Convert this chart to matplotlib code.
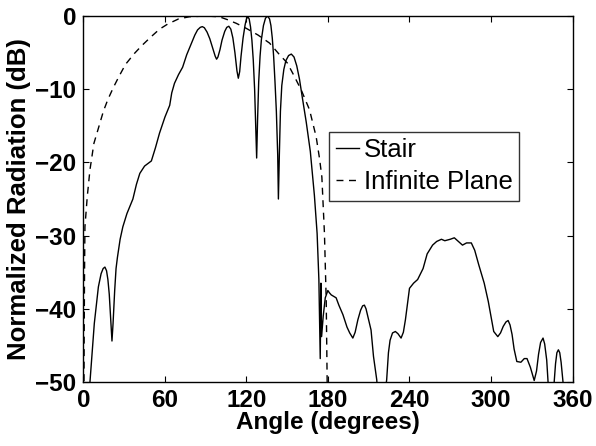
import numpy as np
import matplotlib
import matplotlib.pyplot as plt

matplotlib.use('Agg')

plt.rcParams['font.family'] = ['Liberation Sans', 'DejaVu Sans']
plt.rcParams['font.weight'] = 'bold'
plt.rcParams['axes.labelweight'] = 'bold'

# Stair radiation pattern (angle in degrees, level in dB)
stair_angle = [3, 4.8, 8, 11, 13, 14.5, 15.8, 17, 18, 19, 20.3, 21, 21.8, 23, 24, 25, 27,
               29, 32, 36.4, 39, 41.5, 45, 50, 53, 56, 60, 63.5, 65, 67, 70, 73, 76, 80,
               82, 84, 86, 87.5, 89, 91, 93, 95, 97, 98, 99, 100.5, 102, 104, 105.5, 107,
               108.5, 110, 111.5, 113, 114, 115, 116, 117.5, 119, 120, 121, 122, 123,
               124, 125, 126, 126.8, 127.5, 128.2, 129, 130, 131, 132.5, 134, 135.5, 137,
               138, 139, 140, 141, 142, 143, 143.5, 144.2, 145, 146, 147.5, 149, 151, 153,
               155, 157, 159, 161, 164, 167, 170, 172, 173.3, 174.3, 174.8, 175.3, 176.5,
               178, 179.9, 181, 182.4, 186, 188, 191, 194, 196, 198.3, 200, 202, 204,
               205.5, 206.8, 208, 209.5, 211.7, 213.5, 215.9, 217, 221, 223.2, 224.5,
               225.7, 227.5, 229.6, 231.5, 233.8, 235.5, 237, 240, 243, 246, 250, 253,
               257, 260, 263.5, 266, 270, 273, 276, 279, 282, 285.5, 288, 291, 295, 298,
               302, 305, 307, 309, 311, 312.6, 314, 315.5, 317, 319, 322, 324.5, 326.5,
               329, 331.8, 333.5, 335, 336.5, 338.3, 339.5, 341, 342, 343, 345.5, 346.5,
               347.5, 348.5, 349.6, 350.6, 351.6, 353, 354, 360]
stair_db = [-58, -50, -42, -37, -35.2, -34.5, -34.3, -34.8, -36, -38, -42, -44.4, -42,
            -37.5, -34.5, -33, -30.5, -28.8, -27, -25, -23, -21.5, -20.5, -19.8, -18,
            -16, -13.8, -12.2, -10.5, -9.2, -8, -7, -5.3, -3.5, -2.6, -1.9, -1.55, -1.45,
            -1.6, -2.2, -3.1, -4.3, -5.5, -5.9, -5.6, -4.6, -3.3, -2.1, -1.55, -1.4,
            -1.8, -3, -5, -7.5, -8.5, -7.6, -5.5, -3, -1.2, -0.4, -0.1, -0.4, -1.5,
            -3.3, -6, -10, -15, -19.4, -14, -9, -5.5, -3.2, -1.3, -0.3, 0, -0.4, -1.3,
            -3, -5.5, -9, -13, -19, -25, -19, -13, -9.5, -7.3, -6.1, -5.4, -5.2, -5.6,
            -6.8, -8.6, -11, -14.5, -18.5, -24.5, -29.7, -36, -46.8, -36.5, -43.8, -41,
            -38.5, -37.5, -37.8, -38.1, -38.5, -39.5, -40.8, -42.5, -43.3, -44, -43.2,
            -41.5, -40.2, -39.6, -39.5, -40, -41.2, -42.9, -46.5, -49.7, -53, -53,
            -49.7, -46, -44.3, -43.3, -43.1, -43.4, -44, -43.2, -41.5, -37.2, -36.5,
            -36, -34.5, -32.5, -31.3, -30.8, -30.5, -30.7, -30.5, -30.3, -30.8, -31.3,
            -31, -31, -32, -34, -36.5, -39, -43.1, -43.8, -43.3, -42.4, -41.8, -41.6,
            -42.2, -43.5, -45.5, -47.2, -47.3, -46.8, -46.8, -48, -49.8, -48.5, -46.2,
            -44.6, -44, -44.8, -47, -50, -53, -53, -50, -47.5, -46, -45.6, -46, -47.3,
            -50, -54, -55]

# Infinite plane pattern
plane_angle = [0.3, 0.5, 0.8, 1.1, 2.8, 4.8, 7.7, 10.9, 14.7, 18, 22.2, 26.6, 31, 37.6,
               43.2, 50, 56, 62, 70, 78, 90, 100, 106, 112.5, 120, 128.5, 137, 144.4,
               150, 154, 160.3, 166.4, 171.3, 173.8, 175.5, 177.4, 178.7, 179.4, 179.6]
plane_db = [-55, -45, -35, -28.8, -24.7, -21, -17.4, -15.4, -13, -11.4, -9.7, -8.1, -6.6,
            -5.1, -4.0, -2.8, -1.8, -1.1, -0.4, -0.1, 0, -0.1, -0.5, -1.0, -1.7, -2.6,
            -3.7, -5.3, -6.4, -7.8, -10.1, -12.8, -16.5, -19.5, -22, -29.7, -38.8, -50,
            -60]

x_ticks = [0, 60, 120, 180, 240, 300, 360]
y_ticks = [-50, -40, -30, -20, -10, 0]

fig = plt.figure(figsize=(5.96, 4.46), dpi=100)
ax = fig.add_axes([0.140, 0.1435, 0.8206, 0.8206])

ax.plot(stair_angle, stair_db, color='black', lw=1.0, label='Stair')
ax.plot(plane_angle, plane_db, color='black', lw=1.0, ls=(0, (5, 4)),
        label='Infinite Plane')

ax.set_xlim(0, 360)
ax.set_ylim(-50, 0)
ax.set_xticks(x_ticks)
ax.set_yticks(y_ticks)
ax.tick_params(direction='in', length=4, top=True, right=True, labelsize=17.5, pad=5)
for s in ax.spines.values():
    s.set_linewidth(1.0)

ax.set_xlabel('Angle (degrees)', fontsize=17.5, labelpad=-1)
ax.set_ylabel('Normalized Radiation (dB)', fontsize=18.5, labelpad=3)

leg = ax.legend(loc='upper left', bbox_to_anchor=(0.503, 0.683), fontsize=18.5,
                frameon=True, fancybox=False, handlelength=0.9, handletextpad=0.2,
                borderpad=0.25, labelspacing=0.3, borderaxespad=0)
leg.get_frame().set_edgecolor('black')
leg.get_frame().set_linewidth(1.0)
for t in leg.get_texts():
    t.set_fontweight('normal')

fig.savefig('out.png', dpi=100)
